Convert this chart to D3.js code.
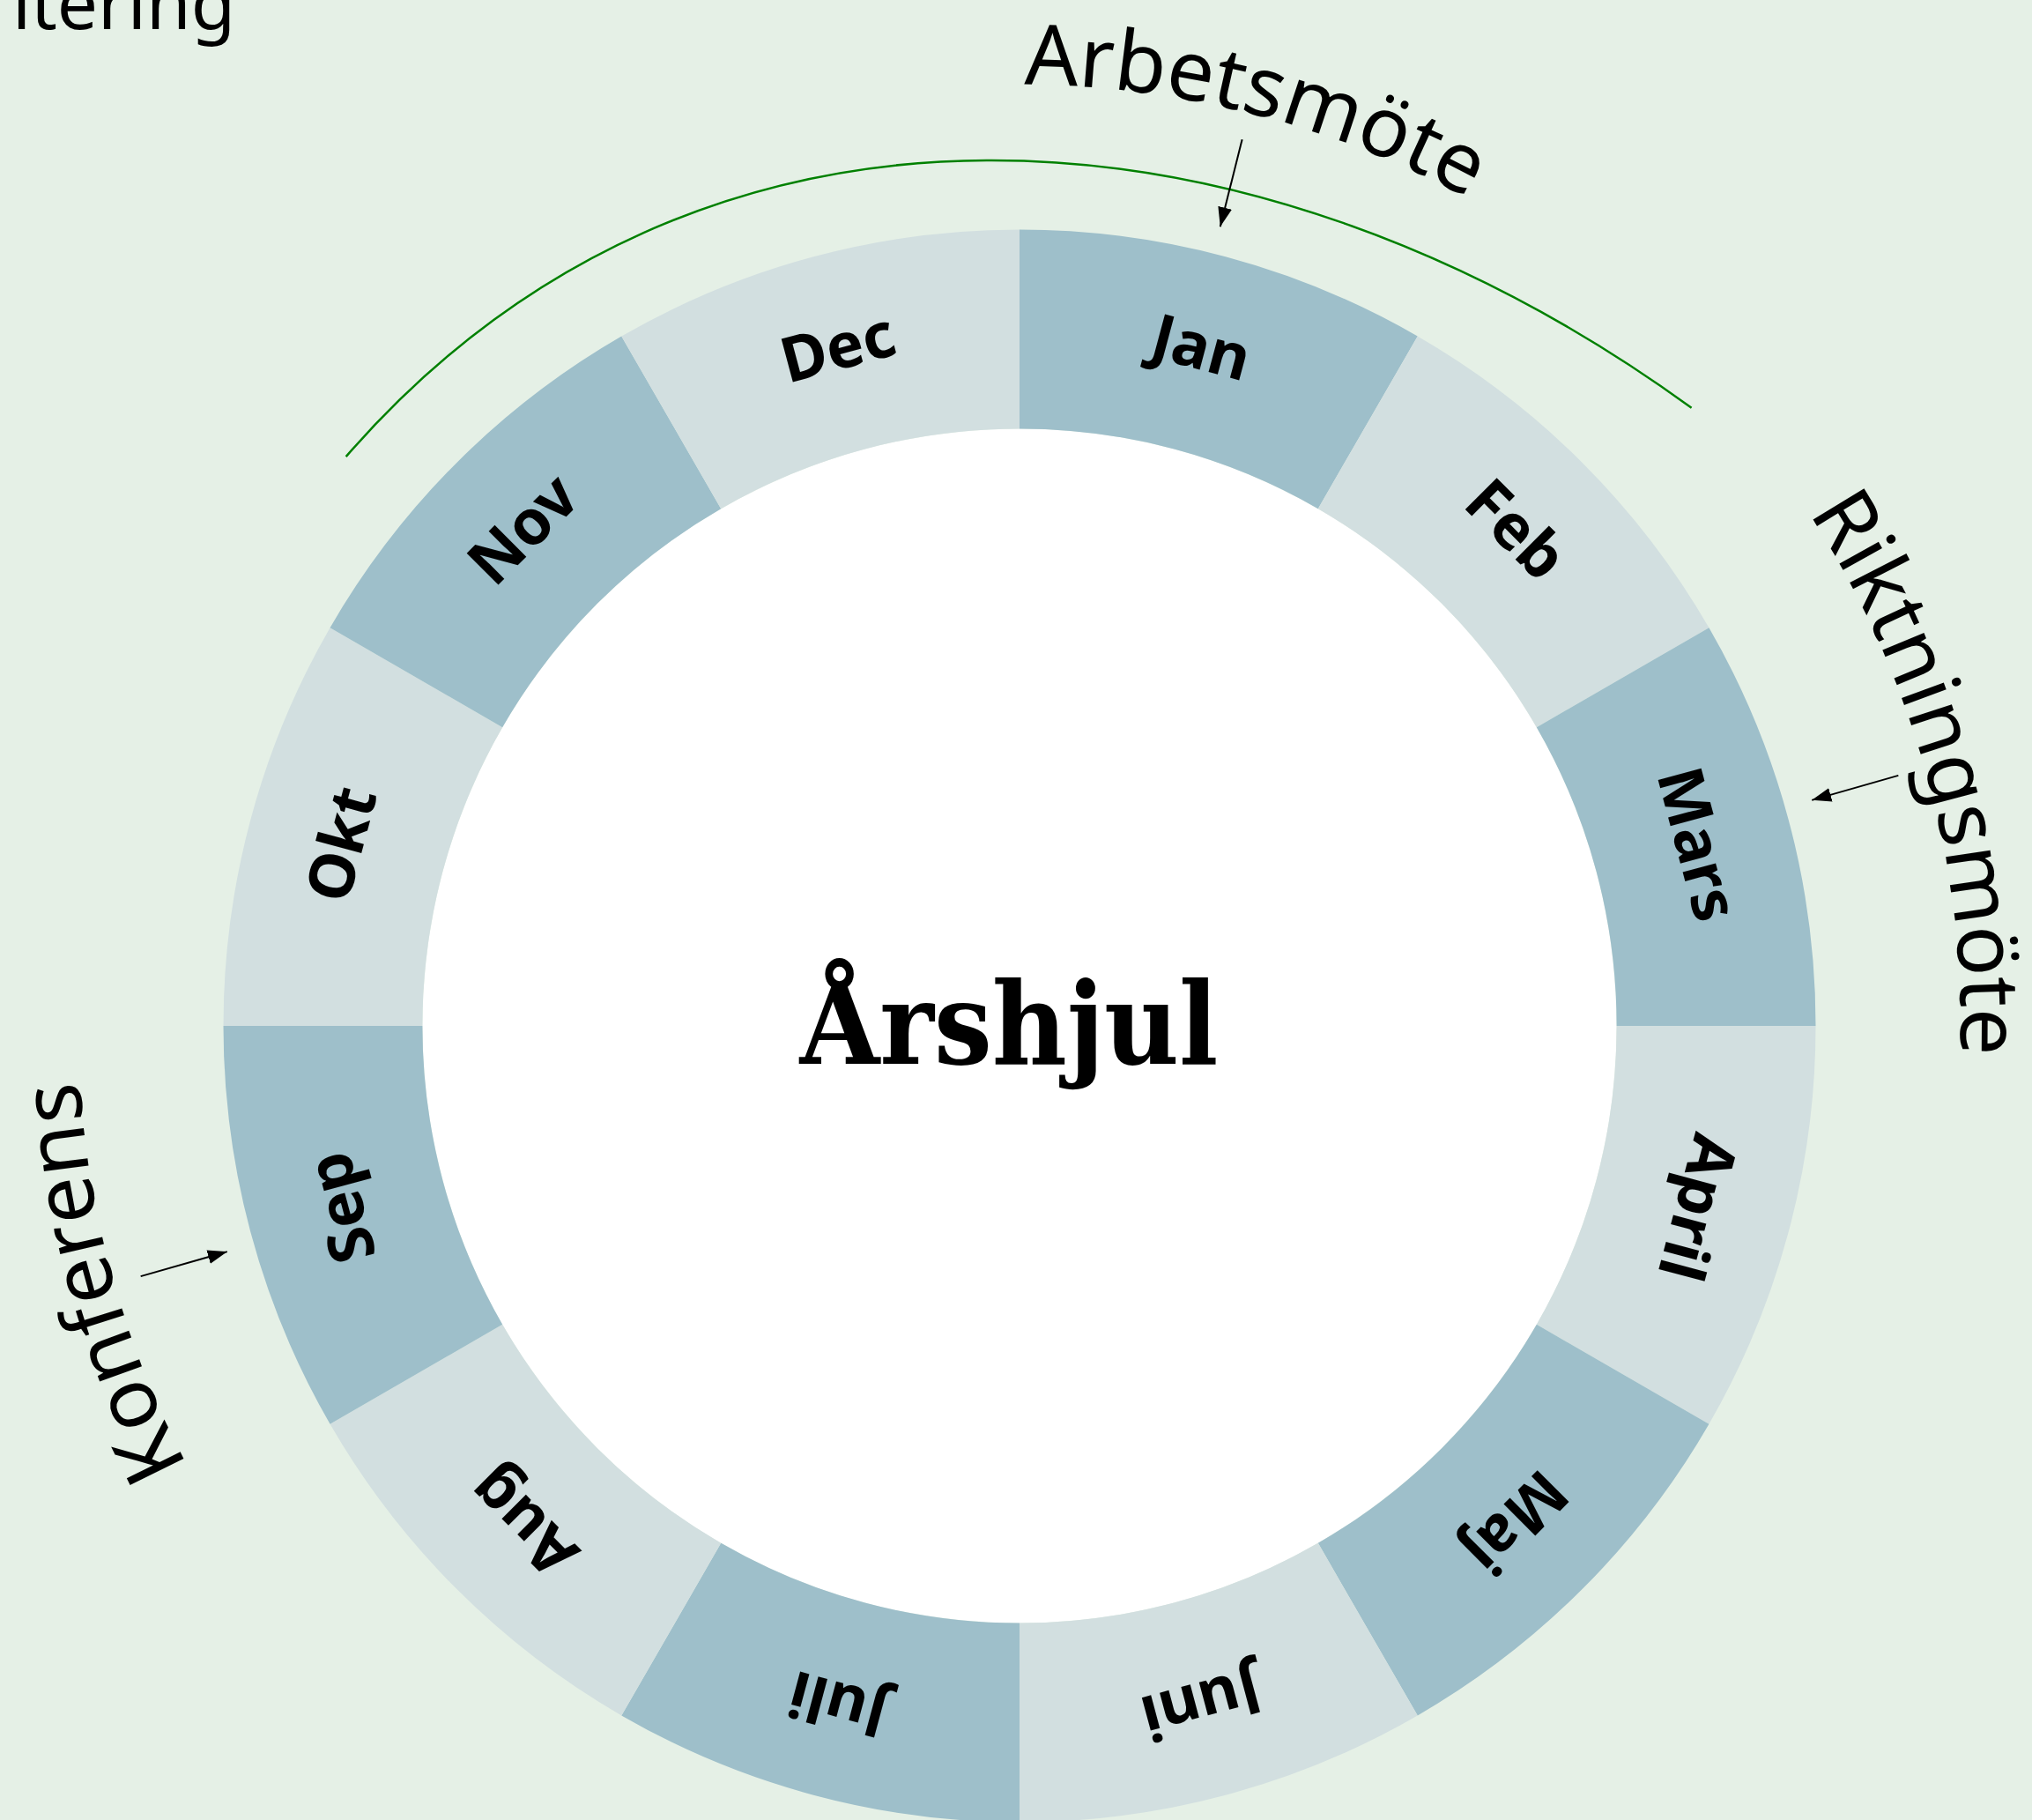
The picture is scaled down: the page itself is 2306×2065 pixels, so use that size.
<!DOCTYPE html>
<html>
<head>
<meta charset="utf-8">
<script src="https://cdn.jsdelivr.net/npm/d3@7"></script>
<style>
  html, body { margin: 0; padding: 0; background: #e5f0e6; }
  svg { display: block; }
</style>
</head>
<body>
<div id="arshjul"></div>
<script>
// data
var months = ["Jan", "Feb", "Mars", "April", "Maj", "Juni", "Juli", "Aug", "Sep", "Okt", "Nov", "Dec"];
var monthShade = ["dark", "light", "dark", "light", "dark", "light", "dark", "light", "dark", "light", "dark", "light"];
var eventNames = ["Arbetsmöte", "Riktningsmöte", "Konferens"];
var eventMonths = [0.47, 2.47, 8.47];      // where in the year (months from 1 jan)
var periodFrom = 10.34, periodTo = 1.58;   // the green span (mid nov -> mid feb)
var cutLabel = "itering";
var title = "Årshjul";

// setup
var w = 2306;
var h = 2065;
var cx = 1157, cy = 1164;
var outerR = 903.5, innerR = 677.6;

var svg = d3.select("#arshjul")
  .append("svg")
  .attr("width", w)
  .attr("height", h)
  .attr("viewBox", "0 0 " + w + " " + h)
  .style("background", "#e5f0e6");

var g = svg.append("g").attr("transform", "translate(" + cx + "," + cy + ")");

var angle = d3.scaleLinear().domain([0, 12]).range([0, 2 * Math.PI]);
var shade = d3.scaleOrdinal().domain(["dark", "light"]).range(["#9ebfca", "#d2dfe0"]);

var pie = d3.pie().value(1).sort(null);
var arc = d3.arc().innerRadius(innerR).outerRadius(outerR);
var labelArc = d3.arc().innerRadius(797).outerRadius(797);
var slices = pie(months);

function polar(r, a) {
  return [r * Math.sin(a), -r * Math.cos(a)];
}

// white middle
g.append("circle")
  .attr("r", innerR)
  .attr("fill", "white");

// month ring
g.append("g")
  .selectAll("path")
  .data(slices)
  .join("path")
    .attr("d", arc)
    .attr("fill", function(d, i) { return shade(monthShade[i]); });

// month names, turned with the ring
g.append("g")
  .selectAll("text")
  .data(slices)
  .join("text")
    .attr("transform", function(d) {
      var c = labelArc.centroid(d);
      var deg = (d.startAngle + d.endAngle) / 2 * 180 / Math.PI;
      return "translate(" + c + ") rotate(" + deg + ")";
    })
    .attr("text-anchor", "middle")
    .attr("dy", "0.35em")
    .style("font-family", "'Noto Sans', 'Open Sans', sans-serif")
    .style("font-weight", "bold")
    .style("font-size", "71px")
    .text(function(d) { return d.data; });

// title
g.append("text")
  .attr("x", -12)
  .attr("dy", "0.33em")
  .style("font-family", "'DejaVu Serif Condensed', 'Liberation Serif', serif")
  .style("font-weight", "bold")
  .style("font-size", "130px")
  .attr("text-anchor", "middle")
  .text(title);

// green span: a bent line from periodFrom to periodTo, higher on the left
var a0 = angle(periodFrom) - 2 * Math.PI, a1 = angle(periodTo);
var p0 = polar(1000.7, a0), p1 = polar(1036, a1);
var t0 = 49 * Math.PI / 180, t1 = 36 * Math.PI / 180;   // slope at each end
var span = d3.path();
span.moveTo(p0[0], p0[1]);
span.bezierCurveTo(
  p0[0] + 611 * Math.cos(t0), p0[1] - 611 * Math.sin(t0),
  p1[0] - 615 * Math.cos(t1), p1[1] - 615 * Math.sin(t1),
  p1[0], p1[1]);
g.append("path")
  .attr("d", span.toString())
  .attr("fill", "none")
  .attr("stroke", "green")
  .attr("stroke-width", 2.5);

// arrows + labels for events
svg.append("defs").append("marker")
  .attr("id", "head")
  .attr("markerUnits", "userSpaceOnUse")
  .attr("markerWidth", 22)
  .attr("markerHeight", 16)
  .attr("refX", 22)
  .attr("refY", 8)
  .attr("orient", "auto")
  .append("path")
    .attr("d", "M0,0L22,8L0,16Z")
    .attr("fill", "black");

var labelR = 1068;

eventNames.forEach(function(name, i) {
  var a = angle(eventMonths[i]);
  g.append("line")
    .attr("x1", polar(1037, a)[0]).attr("y1", polar(1037, a)[1])
    .attr("x2", polar(935, a)[0]).attr("y2", polar(935, a)[1])
    .attr("stroke", "black")
    .attr("stroke-width", 2)
    .attr("marker-end", "url(#head)");

  var am = a + 0.005;
  var s = polar(labelR, am - 0.7), e = polar(labelR, am + 0.7);
  g.append("path")
    .attr("id", "ev" + i)
    .attr("d", "M" + s + "A" + labelR + "," + labelR + " 0 0,1 " + e)
    .attr("fill", "none");
  g.append("text")
    .style("font-family", "'Noto Sans', 'Open Sans', sans-serif")
    .style("font-size", "95px")
    .append("textPath")
      .attr("href", "#ev" + i)
      .attr("startOffset", "50%")
      .attr("text-anchor", "middle")
      .text(name);
});

// the half hidden label up in the corner
svg.append("text")
  .attr("x", 14)
  .attr("y", 33)
  .style("font-family", "'Noto Sans', 'Open Sans', sans-serif")
  .style("font-size", "82px")
  .text(cutLabel);
</script>
</body>
</html>
